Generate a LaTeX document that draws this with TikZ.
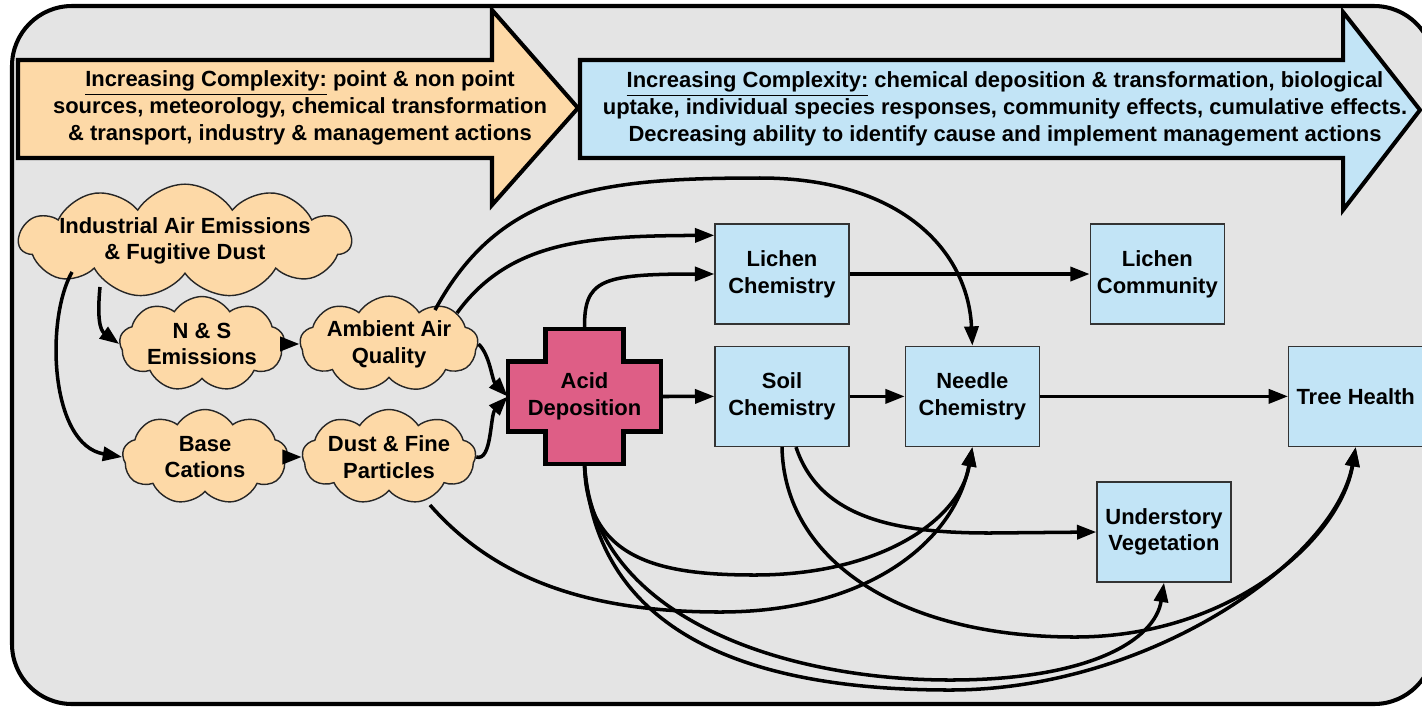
\documentclass[tikz,border=0pt]{standalone}
\usepackage{fontspec}
\setmainfont{Liberation Sans}
\usetikzlibrary{positioning, arrows.meta, shapes.symbols, calc}
\definecolor{peach}{RGB}{253,217,167}
\definecolor{skyfill}{RGB}{194,228,246}
\definecolor{acidpink}{RGB}{222,94,134}
\definecolor{panel}{RGB}{228,228,228}
\tikzset{
  puff/.style={
    cloud,
    cloud puffs=9,
    cloud puff arc=115,
    cloud ignores aspect,
    draw=black!85,
    line width=0.8pt,
    fill=peach,
    align=center,
    inner sep=0pt
  },
  box/.style={
    draw=black!80,
    rectangle,
    line width=0.8pt,
    minimum width=2.68cm,
    minimum height=2cm,
    align=center,
    fill=skyfill
  },
  bigarrow/.style={
    draw=black,
    line width=2.3pt,
    line join=miter
  },
  link/.style={
    line width=2pt,
    -{Triangle[length=11pt,width=8pt]}
  }
}

\begin{document}
\begin{tikzpicture}[x=0.02cm, y=-0.02cm, font=\fontsize{12.5}{15.2}\selectfont\bfseries]
    \useasboundingbox (0,0) rectangle (1422,707);
    \draw[line width=2.3pt, fill=panel, rounded corners=1.2cm] (12,6) rectangle (1434,704);

    % complexity arrows
    \draw[bigarrow, fill=peach] (18,60) -- (492,60) -- (492,10) -- (578,108) -- (492,205) -- (492,158) -- (18,158) -- cycle;
    \draw[bigarrow, fill=skyfill] (580,60) -- (1343,60) -- (1343,12) -- (1420,110) -- (1343,210) -- (1343,158) -- (580,158) -- cycle;
    \node[align=center] (srcnote) at (300,108) {\underline{Increasing Complexity:} point \& non point\\sources, meteorology, chemical transformation\\\& transport, industry \& management actions};
    \node[align=center] (effnote) at (1005,109) {\underline{Increasing Complexity:} chemical deposition \& transformation, biological\\uptake, individual species responses, community effects, cumulative effects.\\Decreasing ability to identify cause and implement management actions};

    % sources
    \node[puff, cloud puffs=11, inner xsep=-4pt, inner ysep=-0.5pt] (ind) at (185,241) {Industrial Air Emissions\\\& Fugitive Dust};
    \node[puff, minimum width=3.3cm, minimum height=1.9cm] (ns) at (202,344) {N \& S\\Emissions};
    \node[puff, minimum width=3.3cm, minimum height=1.9cm] (base) at (205,457) {Base\\Cations};
    \node[puff, minimum width=3.36cm, minimum height=1.9cm] (amb) at (389,344) {Ambient Air\\Quality};
    \node[puff, minimum width=3.36cm, minimum height=1.9cm] (dust) at (389,457) {Dust \& Fine\\Particles};

    % acid deposition
    \coordinate (acidmid) at (584.5,396.5);
    \draw[line width=2.3pt, fill=acidpink] ($(acidmid)+(-39,-67.5)$) -- ++(78,0) -- ++(0,32.5) -- ++(37.5,0) -- ++(0,70) -- ++(-37.5,0) -- ++(0,32.5) -- ++(-78,0) -- ++(0,-32.5) -- ++(-37.5,0) -- ++(0,-70) -- ++(37.5,0) -- cycle;
    \node[inner sep=0pt, minimum width=3.06cm, minimum height=2.7cm, align=center] (acid) at (acidmid) {Acid\\Deposition};

    % responses
    \node[box] (lichem) at (782,274) {Lichen\\Chemistry};
    \node[box, below=0.42cm of lichem] (soil) {Soil\\Chemistry};
    \node[box, right=1.1cm of soil] (needle) {Needle\\Chemistry};
    \node[box, right=4.8cm of lichem] (lichcom) {Lichen\\Community};
    \node[box, right=4.96cm of needle] (tree) {Tree Health};
    \node[box] (under) at (1164,532) {Understory\\Vegetation};

    \draw[link] ($(ind.center)+(-85,46)$) .. controls (97,318) and (100,330) .. (ns.west);
    \draw[link] ($(ind.center)+(-113,31)$) .. controls (45,320) and (50,445) .. (base.west);
    \draw[link] (ns.east) -- (amb.west);
    \draw[link] (base.east) -- (dust.west);
    \draw[link] (amb.east) .. controls (490,355) and (492,380) .. (acid.west);
    \draw[link] (dust.east) .. controls (492,462) and (490,415) .. (acid.west);

    \draw[link] ($(amb.center)+(68,-31)$) .. controls (510,240) and (590,236) .. ($(lichem.north west)+(0,12)$);
    \draw[link] ($(amb.center)+(46,-34)$) .. controls (500,190) and (600,178) .. (760,178) .. controls (900,178) and (968,250) .. (needle.north);
    \draw[link] (acid.north) .. controls (584,280) and (600,274) .. (lichem.west);
    \draw[link] (lichem) -- (lichcom);
    \draw[link] (acid.east) -- (soil.west);
    \draw[link] (soil) -- (needle);
    \draw[link] (needle) -- (tree);

    \draw[link] (acid.south) .. controls (586,560) and (660,575) .. (755,575) .. controls (880,575) and (960,520) .. (needle.south);
    \draw[link] ($(dust.center)+(41,48)$) .. controls (500,585) and (600,612) .. (720,612) .. controls (870,612) and (955,540) .. (needle.south);
    \draw[link] (acid.south) .. controls (592,615) and (780,680) .. (950,680) .. controls (1090,680) and (1155,640) .. (under.south);
    \draw[link] (acid.south) .. controls (596,640) and (760,690) .. (950,690) .. controls (1150,690) and (1335,560) .. (tree.south);
    \draw[link] (soil.south) .. controls (784,560) and (900,637) .. (1075,637) .. controls (1230,637) and (1340,540) .. (tree.south);
    \draw[link] ($(soil.south)+(14,0)$) .. controls (820,520) and (900,533) .. (990,533) -- (under.west);
\end{tikzpicture}
\end{document}
